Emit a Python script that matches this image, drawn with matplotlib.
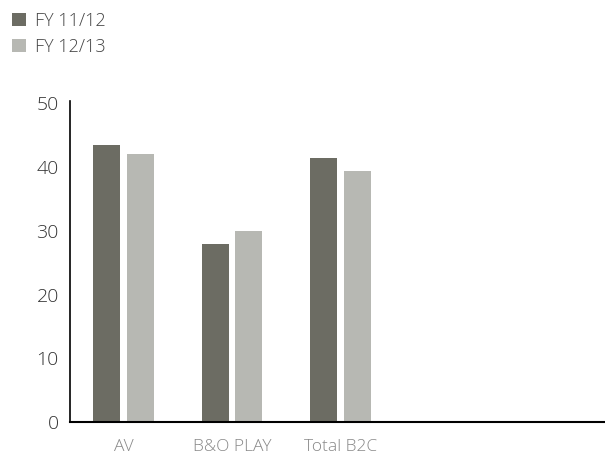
import matplotlib.pyplot as plt
import numpy as np

# Revenue split by business area
categories = ['AV', 'B&O PLAY', 'Total B2C', '', '']
fy_11_12 = [43.5, 28.0, 41.4]
fy_12_13 = [42.0, 29.9, 39.4]
series_names = ['FY 11/12', 'FY 12/13']

dark = '#6c6c63'
light = '#b7b8b3'

plt.rcParams['font.family'] = ['Open Sans', 'DejaVu Sans']
plt.rcParams['font.weight'] = 'light'

fig = plt.figure(figsize=(6.05, 4.59), dpi=100)
ax = fig.add_axes([0.1157, 0.0806, 0.8843, 0.6985])

x = np.arange(len(fy_11_12))
w = 0.25
offset = 0.03
ax.bar(x - w / 2 - offset, fy_11_12, width=w, color=dark, label=series_names[0])
ax.bar(x + w / 2 + offset, fy_12_13, width=w, color=light, label=series_names[1])

ax.set_xlim(-0.493, 4.44)
ax.set_ylim(0, 50.3)
ax.set_yticks([0, 10, 20, 30, 40, 50])
ax.set_xticks(np.arange(len(categories)))
ax.set_xticklabels(categories)

for side in ['top', 'right']:
    ax.spines[side].set_visible(False)
ax.spines['left'].set_linewidth(1.2)
ax.spines['bottom'].set_linewidth(1.5)
ax.tick_params(axis='y', length=0, pad=8, labelsize=14, labelcolor='#333333')
ax.tick_params(axis='x', length=0, pad=12, labelsize=12.5, labelcolor='#888888')

# legend sits in the top left corner of the figure
fig.legend(loc='upper left', bbox_to_anchor=(0.0, 1.0), frameon=False,
           borderpad=0.45, borderaxespad=0.2,
           fontsize=13, handlelength=0.8, handleheight=0.8, handletextpad=0.5,
           labelspacing=0.45, labelcolor='#444444')

fig.savefig('out.png', dpi=100)
